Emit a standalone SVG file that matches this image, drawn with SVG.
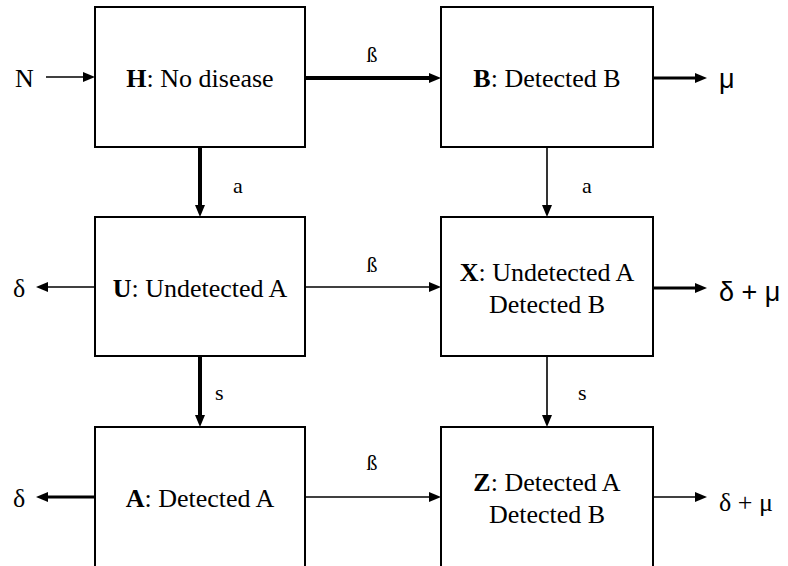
<svg xmlns="http://www.w3.org/2000/svg" width="788" height="566" viewBox="0 0 788 566">
<style>
.box{fill:#fff;stroke:#000;stroke-width:2}
.t{font-family:'Times New Roman','Liberation Serif','DejaVu Serif',serif;font-size:26px;fill:#000}
.lbl{font-family:'Times New Roman','Liberation Serif','DejaVu Serif',serif;font-size:22px;fill:#000}
.sans{font-family:Arial,'Liberation Sans',sans-serif;font-size:27px;fill:#000}
.c{fill:none;stroke:#000}
.thin{stroke-width:1.6}
.mid{stroke-width:3}
.thick{stroke-width:4}
</style>
<defs>
<marker id="ah" markerWidth="12" markerHeight="10" refX="0" refY="5" orient="auto" markerUnits="userSpaceOnUse">
<path d="M0,0 L12,5 L0,10 z" fill="#000"/>
</marker>
</defs>
<rect width="788" height="566" fill="#fff"/>
<g id="connectors">
<line class="c thin" x1="46" y1="77" x2="83" y2="77" marker-end="url(#ah)"/>
<line class="c thick" x1="305" y1="78" x2="429" y2="78" marker-end="url(#ah)"/>
<line class="c mid" x1="653" y1="78" x2="695" y2="78" marker-end="url(#ah)"/>
<line class="c thick" x1="200" y1="147" x2="200" y2="205" marker-end="url(#ah)"/>
<line class="c thin" x1="547" y1="147" x2="547" y2="205" marker-end="url(#ah)"/>
<line class="c thin" x1="95" y1="287" x2="48" y2="287" marker-end="url(#ah)"/>
<line class="c thin" x1="305" y1="287" x2="429" y2="287" marker-end="url(#ah)"/>
<line class="c mid" x1="653" y1="288" x2="695" y2="288" marker-end="url(#ah)"/>
<line class="c thick" x1="200" y1="356" x2="200" y2="415" marker-end="url(#ah)"/>
<line class="c thin" x1="547" y1="356" x2="547" y2="415" marker-end="url(#ah)"/>
<line class="c mid" x1="95" y1="497" x2="48" y2="497" marker-end="url(#ah)"/>
<line class="c thin" x1="305" y1="497" x2="429" y2="497" marker-end="url(#ah)"/>
<line class="c thin" x1="653" y1="497" x2="695" y2="497" marker-end="url(#ah)"/>
<text class="t" x="15" y="87">N</text>
<text class="lbl" x="372" y="62" text-anchor="middle">ß</text>
<text class="lbl" x="372" y="272" text-anchor="middle">ß</text>
<text class="lbl" x="372" y="470" text-anchor="middle">ß</text>
<text class="lbl" x="233" y="193">a</text>
<text class="lbl" x="582" y="193">a</text>
<text class="lbl" x="215" y="400">s</text>
<text class="lbl" x="578" y="400">s</text>
<text class="sans" x="719" y="88">μ</text>
<text class="sans" x="719" y="301">δ + μ</text>
<text class="t" x="719" y="511">δ + μ</text>
<text class="t" x="13" y="297">δ</text>
<text class="t" x="13" y="507">δ</text>
</g>
<g id="H">
<rect class="box" x="95" y="7" width="210" height="140"/>
<text class="t" x="200" y="87" text-anchor="middle"><tspan font-weight="bold">H</tspan>: No disease</text>
</g>
<g id="B">
<rect class="box" x="441" y="7" width="212" height="140"/>
<text class="t" x="547" y="87" text-anchor="middle"><tspan font-weight="bold">B</tspan>: Detected B</text>
</g>
<g id="U">
<rect class="box" x="95" y="217" width="210" height="139"/>
<text class="t" x="200" y="297" text-anchor="middle"><tspan font-weight="bold">U</tspan>: Undetected A</text>
</g>
<g id="X">
<rect class="box" x="441" y="217" width="212" height="139"/>
<text class="t" x="547" y="281" text-anchor="middle"><tspan font-weight="bold">X</tspan>: Undetected A</text>
<text class="t" x="547" y="313" text-anchor="middle">Detected B</text>
</g>
<g id="A">
<rect class="box" x="95" y="427" width="210" height="160"/>
<text class="t" x="200" y="507" text-anchor="middle"><tspan font-weight="bold">A</tspan>: Detected A</text>
</g>
<g id="Z">
<rect class="box" x="441" y="427" width="212" height="160"/>
<text class="t" x="547" y="491" text-anchor="middle"><tspan font-weight="bold">Z</tspan>: Detected A</text>
<text class="t" x="547" y="523" text-anchor="middle">Detected B</text>
</g>
</svg>
